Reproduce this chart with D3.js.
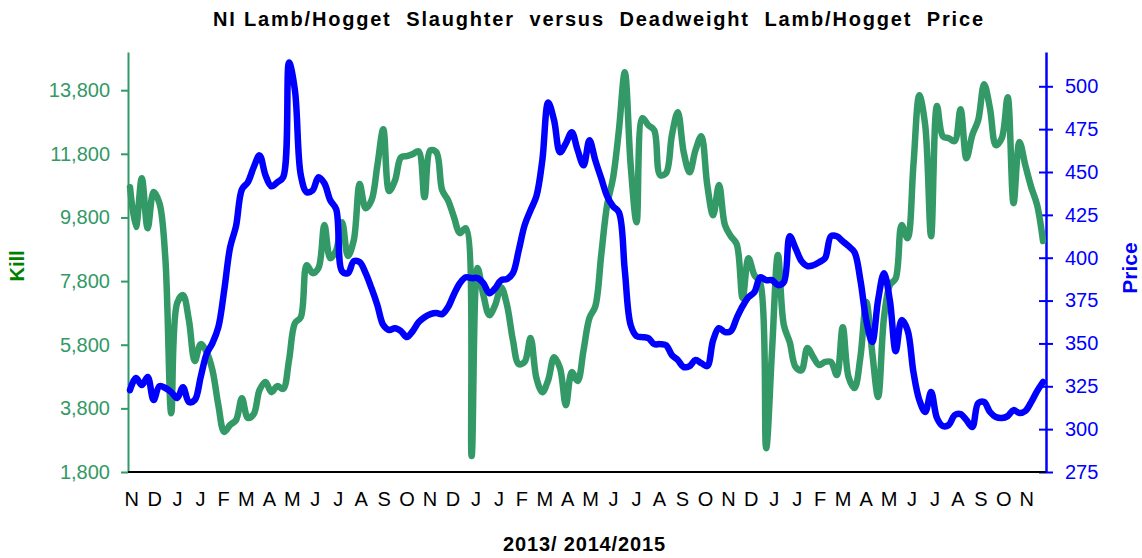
<!DOCTYPE html>
<html>
<head>
<meta charset="utf-8">
<script src="https://cdn.jsdelivr.net/npm/d3@7"></script>
<style>
  html, body { margin: 0; padding: 0; background: #fff; }
  svg { display: block; font-family: "Liberation Sans", Arial, sans-serif; }
</style>
</head>
<body>
<svg id="chart" width="1142" height="558"></svg>
<script>
// ---- Data ----
const monthLabels = ["N","D","J","J","F","M","A","M","J","J","A","S","O","N",
  "D","J","J","F","M","A","M","J","J","A","S","O","N",
  "D","J","J","F","M","A","M","J","J","A","S","O","N"];

// weekly lamb/hogget kill (head)
const kill = [
  10750, 9500, 11030, 9460, 10600, 10250, 8520, 3650, 7110, 7360,
  6570, 5290, 5820, 5570, 5000, 3900, 3060, 3280, 3430, 4120,
  3500, 3620, 4380, 4630, 4310, 4500, 4410, 5320, 6480, 6670,
  8300, 8050, 8210, 9560, 8520, 8770, 9650, 8590, 9090, 10850,
  10090, 10340, 11440, 12570, 10630, 10970, 11690, 11730, 11790, 11880,
  10440, 11910, 11850, 10660, 10340, 9810, 9310, 9460, 2300, 8210,
  7360, 6730, 7050, 7610, 7050, 5950, 5190, 5260, 6010, 4750,
  4310, 4690, 5410, 5070, 3900, 4940, 4660, 5630, 6640, 7010,
  8620, 10190, 11030, 12540, 14360, 11440, 9650, 12920, 12700, 12540,
  11130, 11190, 12390, 13110, 11850, 11220, 11910, 12350, 10820, 9870,
  10820, 9560, 9210, 8960, 7270, 8520, 7990, 7740, 2550, 5630,
  8620, 6420, 5880, 5100, 5000, 5700, 5410, 5160, 5260, 5260,
  4850, 6350, 4780, 4440, 5410, 7140, 5570, 4160, 6640, 7670,
  7890, 9560, 9150, 11440, 13640, 12700, 9210, 13300, 12350, 12290,
  12200, 13200, 11660, 12390, 12860, 13990, 13230, 12070, 12290, 13580,
  10250, 12170, 11440, 10750, 10190, 9060
];

// weekly deadweight lamb/hogget price (p/kg)
const price = [
  322.8, 329.8, 325.7, 330.4, 317.0, 325.1, 324.0, 321.6, 318.1, 324.5,
  315.8, 317.0, 330.4, 343.8, 350.2, 359.5, 381.1, 406.1, 418.4, 439.9,
  444.0, 452.8, 459.7, 448.1, 441.7, 444.0, 446.9, 513.9, 497.6, 448.1,
  438.2, 439.3, 446.9, 443.4, 433.5, 428.3, 392.1, 391.0, 398.0, 397.4,
  391.0, 382.2, 372.3, 360.7, 357.8, 358.9, 357.2, 353.7, 357.2, 362.4,
  365.3, 367.1, 367.7, 367.1, 371.2, 378.7, 385.1, 388.6, 388.1, 388.1,
  385.1, 379.3, 382.2, 386.9, 387.5, 391.0, 404.4, 419.0, 427.7, 435.9,
  456.8, 490.6, 480.1, 461.5, 466.7, 473.2, 462.7, 453.9, 468.5, 456.8,
  446.3, 435.9, 430.0, 426.5, 392.7, 360.7, 354.3, 353.7, 353.1, 349.6,
  349.6, 349.0, 343.2, 340.3, 336.2, 336.8, 340.3, 338.5, 336.8, 351.9,
  358.9, 356.6, 357.2, 364.8, 371.7, 377.0, 379.9, 388.6, 386.9, 386.9,
  384.0, 385.7, 412.5, 405.5, 398.0, 395.1, 395.6, 397.4, 399.7, 412.5,
  412.5, 409.6, 406.7, 403.2, 386.9, 363.6, 350.8, 375.2, 391.0, 375.2,
  345.5, 363.6, 357.8, 333.3, 317.0, 310.0, 321.6, 306.5, 301.8, 302.4,
  308.2, 308.8, 305.3, 301.2, 315.2, 315.8, 310.0, 307.1, 306.5, 307.6,
  311.1, 309.4, 310.6, 315.8, 322.2, 327.5
];

const killTicks = [1800, 3800, 5800, 7800, 9800, 11800, 13800];
const priceTicks = [275, 300, 325, 350, 375, 400, 425, 450, 475, 500];
const killDomain = [1800, 15000];
const priceDomain = [275, 520];

const titleText = "NI Lamb/Hogget  Slaughter  versus  Deadweight  Lamb/Hogget  Price";
const xTitle = "2013/ 2014/2015";

// ---- Layout ----
const plot = { left: 128, right: 1046, top: 52, bottom: 472 };
const GREEN = "#339966", BLUE = "#0000ff";

const svg = d3.select("#chart");

const x = d3.scaleLinear().domain([0, kill.length - 1]).range([130, 1043]);
const yKill = d3.scaleLinear().domain(killDomain).range([plot.bottom, plot.top]);
const yPrice = d3.scaleLinear().domain(priceDomain).range([plot.bottom, plot.top]);
const xMonth = d3.scalePoint().domain(d3.range(monthLabels.length)).range([131.7, 1026.7]);

// Title
svg.append("text")
  .attr("x", 213).attr("y", 26)
  .attr("textLength", 770).attr("lengthAdjust", "spacing")
  .style("font-size", "20px").style("font-weight", "bold")
  .style("white-space", "pre")
  .text(titleText);

// Left axis
const gL = svg.append("g").attr("transform", `translate(${plot.left},0)`)
  .call(d3.axisLeft(yKill).tickValues(killTicks).tickFormat(d3.format(",")).tickSize(7).tickSizeOuter(0).tickPadding(11));
gL.select(".domain").attr("stroke", GREEN).attr("stroke-width", 2);
gL.selectAll(".tick line").attr("stroke", GREEN).attr("stroke-width", 2);
gL.selectAll(".tick text").attr("fill", GREEN).style("font-size", "20px").style("font-family", "Liberation Sans, Arial, sans-serif");

// Right axis
const gR = svg.append("g").attr("transform", `translate(${plot.right},0)`)
  .call(d3.axisRight(yPrice).tickValues(priceTicks).tickSize(7).tickSizeOuter(0).tickPadding(12));
gR.select(".domain").attr("stroke", BLUE).attr("stroke-width", 2.5);
gR.selectAll(".tick line").attr("stroke", BLUE).attr("stroke-width", 2).attr("x1", -7);
gR.selectAll(".tick text").attr("fill", BLUE).style("font-size", "20px").style("font-family", "Liberation Sans, Arial, sans-serif");

// Lines (smoothed, as in the original)
const curve = d3.curveCatmullRom.alpha(0.5);
const lineKill = d3.line().curve(curve).x((d, i) => x(i)).y(d => yKill(d));
const linePrice = d3.line().curve(curve).x((d, i) => x(i)).y(d => yPrice(d));

svg.append("path").datum(kill)
  .attr("d", lineKill)
  .attr("fill", "none").attr("stroke", GREEN).attr("stroke-width", 6.5)
  .attr("stroke-linejoin", "round").attr("stroke-linecap", "round");

svg.append("path").datum(price)
  .attr("d", linePrice)
  .attr("fill", "none").attr("stroke", BLUE).attr("stroke-width", 6.5)
  .attr("stroke-linejoin", "round").attr("stroke-linecap", "round");

// X axis line
svg.append("line")
  .attr("x1", plot.left).attr("x2", plot.right)
  .attr("y1", plot.bottom).attr("y2", plot.bottom)
  .attr("stroke", "#000").attr("stroke-width", 2);

// Month labels
svg.append("g").selectAll("text").data(monthLabels).join("text")
  .attr("x", (d, i) => xMonth(i)).attr("y", 506)
  .attr("text-anchor", "middle")
  .style("font-size", "20px")
  .text(d => d);

// Axis titles
svg.append("text")
  .attr("x", 503).attr("y", 551)
  .attr("textLength", 162).attr("lengthAdjust", "spacing")
  .style("font-size", "20px").style("font-weight", "bold")
  .text(xTitle);

svg.append("text")
  .attr("transform", "translate(24,266) rotate(-90)")
  .attr("text-anchor", "middle")
  .attr("fill", "#008000")
  .style("font-size", "20px").style("font-weight", "bold")
  .text("Kill");

svg.append("text")
  .attr("transform", "translate(1137,268) rotate(-90)")
  .attr("text-anchor", "middle")
  .attr("fill", BLUE)
  .style("font-size", "21px").style("font-weight", "bold")
  .text("Price");
</script>
</body>
</html>
